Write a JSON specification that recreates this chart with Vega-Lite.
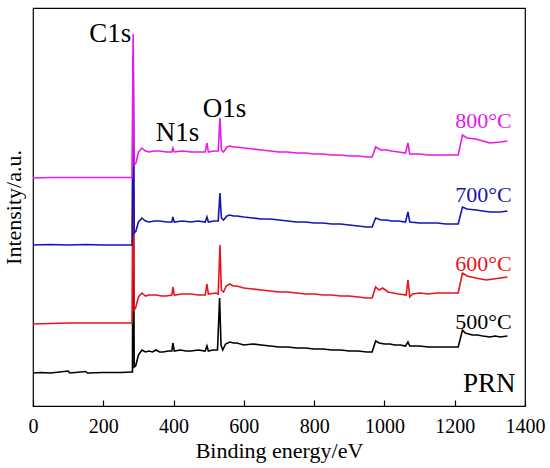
{
  "$schema": "https://vega.github.io/schema/vega-lite/v6.json",
  "width": 492,
  "height": 398,
  "autosize": {"type": "none"},
  "padding": {"left": 33, "top": 8, "right": 25, "bottom": 62},
  "background": "white",
  "config": {
    "font": "Liberation Serif",
    "view": {"stroke": "#000000", "strokeWidth": 1.2}
  },
  "datasets": {
    "spectra": [
      {"s":"500°C","e":0,"i":33},{"s":"500°C","e":20,"i":33.5},{"s":"500°C","e":50,"i":33},{"s":"500°C","e":100,"i":35},{"s":"500°C","e":105,"i":33},{"s":"500°C","e":150,"i":34.5},{"s":"500°C","e":155,"i":33},{"s":"500°C","e":200,"i":33.5},{"s":"500°C","e":250,"i":33.5},{"s":"500°C","e":280,"i":34},{"s":"500°C","e":283,"i":34},{"s":"500°C","e":285,"i":266},{"s":"500°C","e":288,"i":39},{"s":"500°C","e":292,"i":40},{"s":"500°C","e":300,"i":51},{"s":"500°C","e":310,"i":56},{"s":"500°C","e":320,"i":54},{"s":"500°C","e":330,"i":55},{"s":"500°C","e":340,"i":54},{"s":"500°C","e":350,"i":56},{"s":"500°C","e":360,"i":54},{"s":"500°C","e":370,"i":54},{"s":"500°C","e":385,"i":55},{"s":"500°C","e":395,"i":55},{"s":"500°C","e":398,"i":63},{"s":"500°C","e":402,"i":55},{"s":"500°C","e":420,"i":56},{"s":"500°C","e":435,"i":55},{"s":"500°C","e":450,"i":55},{"s":"500°C","e":470,"i":56},{"s":"500°C","e":490,"i":55},{"s":"500°C","e":495,"i":60},{"s":"500°C","e":499,"i":55},{"s":"500°C","e":512,"i":56},{"s":"500°C","e":525,"i":56},{"s":"500°C","e":531,"i":108},{"s":"500°C","e":535,"i":61},{"s":"500°C","e":540,"i":56},{"s":"500°C","e":548,"i":62},{"s":"500°C","e":560,"i":64},{"s":"500°C","e":570,"i":63},{"s":"500°C","e":580,"i":63},{"s":"500°C","e":600,"i":61},{"s":"500°C","e":625,"i":62},{"s":"500°C","e":650,"i":61},{"s":"500°C","e":675,"i":60},{"s":"500°C","e":700,"i":59},{"s":"500°C","e":725,"i":59},{"s":"500°C","e":750,"i":58},{"s":"500°C","e":775,"i":58},{"s":"500°C","e":800,"i":57},{"s":"500°C","e":825,"i":57},{"s":"500°C","e":850,"i":56},{"s":"500°C","e":875,"i":56},{"s":"500°C","e":900,"i":55},{"s":"500°C","e":925,"i":55},{"s":"500°C","e":950,"i":54},{"s":"500°C","e":965,"i":54},{"s":"500°C","e":975,"i":65},{"s":"500°C","e":985,"i":63},{"s":"500°C","e":1000,"i":62},{"s":"500°C","e":1015,"i":62},{"s":"500°C","e":1030,"i":61},{"s":"500°C","e":1045,"i":61},{"s":"500°C","e":1060,"i":60},{"s":"500°C","e":1067,"i":64},{"s":"500°C","e":1072,"i":60},{"s":"500°C","e":1100,"i":60},{"s":"500°C","e":1125,"i":59},{"s":"500°C","e":1150,"i":59},{"s":"500°C","e":1175,"i":59},{"s":"500°C","e":1200,"i":59},{"s":"500°C","e":1210,"i":59},{"s":"500°C","e":1222,"i":76},{"s":"500°C","e":1230,"i":73},{"s":"500°C","e":1250,"i":71},{"s":"500°C","e":1265,"i":71},{"s":"500°C","e":1280,"i":70},{"s":"500°C","e":1300,"i":69},{"s":"500°C","e":1315,"i":70},{"s":"500°C","e":1330,"i":69},{"s":"500°C","e":1350,"i":70},

      {"s":"600°C","e":0,"i":82},{"s":"600°C","e":50,"i":82.5},{"s":"600°C","e":100,"i":83},{"s":"600°C","e":150,"i":83},{"s":"600°C","e":200,"i":83},{"s":"600°C","e":250,"i":83},{"s":"600°C","e":282,"i":83},{"s":"600°C","e":285,"i":306},{"s":"600°C","e":288,"i":96},{"s":"600°C","e":292,"i":98},{"s":"600°C","e":300,"i":109},{"s":"600°C","e":310,"i":113},{"s":"600°C","e":320,"i":110},{"s":"600°C","e":330,"i":111},{"s":"600°C","e":350,"i":111},{"s":"600°C","e":365,"i":110},{"s":"600°C","e":380,"i":110},{"s":"600°C","e":395,"i":111},{"s":"600°C","e":398,"i":119},{"s":"600°C","e":402,"i":111},{"s":"600°C","e":425,"i":112},{"s":"600°C","e":450,"i":112},{"s":"600°C","e":470,"i":111},{"s":"600°C","e":490,"i":111},{"s":"600°C","e":495,"i":122},{"s":"600°C","e":499,"i":112},{"s":"600°C","e":520,"i":113},{"s":"600°C","e":527,"i":112},{"s":"600°C","e":532,"i":161},{"s":"600°C","e":536,"i":116},{"s":"600°C","e":542,"i":114},{"s":"600°C","e":550,"i":120},{"s":"600°C","e":560,"i":122},{"s":"600°C","e":570,"i":120},{"s":"600°C","e":580,"i":120},{"s":"600°C","e":600,"i":118},{"s":"600°C","e":625,"i":117},{"s":"600°C","e":650,"i":116},{"s":"600°C","e":675,"i":115},{"s":"600°C","e":700,"i":114},{"s":"600°C","e":725,"i":114},{"s":"600°C","e":750,"i":113},{"s":"600°C","e":775,"i":112},{"s":"600°C","e":800,"i":112},{"s":"600°C","e":825,"i":111},{"s":"600°C","e":850,"i":111},{"s":"600°C","e":875,"i":110},{"s":"600°C","e":900,"i":110},{"s":"600°C","e":925,"i":109},{"s":"600°C","e":950,"i":108},{"s":"600°C","e":965,"i":108},{"s":"600°C","e":975,"i":119},{"s":"600°C","e":985,"i":116},{"s":"600°C","e":995,"i":118},{"s":"600°C","e":1010,"i":114},{"s":"600°C","e":1025,"i":113},{"s":"600°C","e":1040,"i":112},{"s":"600°C","e":1062,"i":111},{"s":"600°C","e":1067,"i":126},{"s":"600°C","e":1072,"i":109},{"s":"600°C","e":1080,"i":112},{"s":"600°C","e":1100,"i":113},{"s":"600°C","e":1125,"i":112},{"s":"600°C","e":1150,"i":113},{"s":"600°C","e":1175,"i":113},{"s":"600°C","e":1200,"i":113},{"s":"600°C","e":1210,"i":113},{"s":"600°C","e":1222,"i":133},{"s":"600°C","e":1235,"i":130},{"s":"600°C","e":1260,"i":128},{"s":"600°C","e":1275,"i":127},{"s":"600°C","e":1290,"i":126},{"s":"600°C","e":1310,"i":127},{"s":"600°C","e":1330,"i":128},{"s":"600°C","e":1350,"i":129},

      {"s":"700°C","e":0,"i":161},{"s":"700°C","e":50,"i":161.5},{"s":"700°C","e":100,"i":161},{"s":"700°C","e":150,"i":161.5},{"s":"700°C","e":200,"i":161},{"s":"700°C","e":250,"i":161},{"s":"700°C","e":282,"i":161},{"s":"700°C","e":285,"i":351},{"s":"700°C","e":288,"i":173},{"s":"700°C","e":293,"i":175},{"s":"700°C","e":300,"i":184},{"s":"700°C","e":310,"i":188},{"s":"700°C","e":320,"i":185},{"s":"700°C","e":330,"i":184},{"s":"700°C","e":345,"i":185},{"s":"700°C","e":360,"i":185},{"s":"700°C","e":380,"i":184},{"s":"700°C","e":395,"i":184},{"s":"700°C","e":398,"i":189},{"s":"700°C","e":402,"i":184},{"s":"700°C","e":425,"i":185},{"s":"700°C","e":450,"i":184},{"s":"700°C","e":470,"i":185},{"s":"700°C","e":490,"i":184},{"s":"700°C","e":495,"i":189},{"s":"700°C","e":499,"i":184},{"s":"700°C","e":515,"i":185},{"s":"700°C","e":527,"i":185},{"s":"700°C","e":532,"i":213},{"s":"700°C","e":536,"i":188},{"s":"700°C","e":542,"i":186},{"s":"700°C","e":552,"i":190},{"s":"700°C","e":560,"i":191},{"s":"700°C","e":570,"i":190},{"s":"700°C","e":580,"i":190},{"s":"700°C","e":600,"i":189},{"s":"700°C","e":625,"i":188},{"s":"700°C","e":650,"i":187},{"s":"700°C","e":675,"i":187},{"s":"700°C","e":700,"i":186},{"s":"700°C","e":725,"i":185},{"s":"700°C","e":750,"i":184},{"s":"700°C","e":775,"i":184},{"s":"700°C","e":800,"i":183},{"s":"700°C","e":825,"i":183},{"s":"700°C","e":850,"i":182},{"s":"700°C","e":875,"i":182},{"s":"700°C","e":900,"i":181},{"s":"700°C","e":925,"i":180},{"s":"700°C","e":950,"i":179},{"s":"700°C","e":965,"i":179},{"s":"700°C","e":975,"i":188},{"s":"700°C","e":990,"i":186},{"s":"700°C","e":1005,"i":186},{"s":"700°C","e":1020,"i":185},{"s":"700°C","e":1040,"i":185},{"s":"700°C","e":1060,"i":184},{"s":"700°C","e":1067,"i":194},{"s":"700°C","e":1072,"i":184},{"s":"700°C","e":1100,"i":183},{"s":"700°C","e":1125,"i":183},{"s":"700°C","e":1150,"i":183},{"s":"700°C","e":1175,"i":182},{"s":"700°C","e":1200,"i":182},{"s":"700°C","e":1210,"i":182},{"s":"700°C","e":1222,"i":199},{"s":"700°C","e":1235,"i":197},{"s":"700°C","e":1260,"i":196},{"s":"700°C","e":1280,"i":195},{"s":"700°C","e":1300,"i":194},{"s":"700°C","e":1330,"i":194},{"s":"700°C","e":1350,"i":195},

      {"s":"800°C","e":0,"i":228},{"s":"800°C","e":50,"i":228.5},{"s":"800°C","e":100,"i":228.5},{"s":"800°C","e":150,"i":228.5},{"s":"800°C","e":200,"i":228.5},{"s":"800°C","e":250,"i":228.5},{"s":"800°C","e":282,"i":228.5},{"s":"800°C","e":285,"i":372},{"s":"800°C","e":288,"i":241},{"s":"800°C","e":293,"i":243},{"s":"800°C","e":300,"i":254},{"s":"800°C","e":310,"i":258},{"s":"800°C","e":320,"i":255},{"s":"800°C","e":330,"i":254},{"s":"800°C","e":345,"i":255},{"s":"800°C","e":360,"i":255},{"s":"800°C","e":380,"i":254},{"s":"800°C","e":395,"i":254},{"s":"800°C","e":398,"i":258},{"s":"800°C","e":402,"i":254},{"s":"800°C","e":425,"i":255},{"s":"800°C","e":450,"i":254},{"s":"800°C","e":470,"i":254},{"s":"800°C","e":490,"i":254},{"s":"800°C","e":495,"i":263},{"s":"800°C","e":499,"i":254},{"s":"800°C","e":515,"i":255},{"s":"800°C","e":527,"i":255},{"s":"800°C","e":532,"i":288},{"s":"800°C","e":536,"i":256},{"s":"800°C","e":542,"i":254},{"s":"800°C","e":552,"i":259},{"s":"800°C","e":560,"i":260},{"s":"800°C","e":570,"i":259},{"s":"800°C","e":580,"i":259},{"s":"800°C","e":600,"i":258},{"s":"800°C","e":625,"i":257},{"s":"800°C","e":650,"i":256},{"s":"800°C","e":675,"i":255},{"s":"800°C","e":700,"i":254},{"s":"800°C","e":725,"i":254},{"s":"800°C","e":750,"i":253},{"s":"800°C","e":775,"i":253},{"s":"800°C","e":800,"i":252},{"s":"800°C","e":825,"i":252},{"s":"800°C","e":850,"i":251},{"s":"800°C","e":875,"i":251},{"s":"800°C","e":900,"i":250},{"s":"800°C","e":925,"i":250},{"s":"800°C","e":950,"i":249},{"s":"800°C","e":965,"i":249},{"s":"800°C","e":975,"i":259},{"s":"800°C","e":990,"i":256},{"s":"800°C","e":1005,"i":256},{"s":"800°C","e":1020,"i":255},{"s":"800°C","e":1040,"i":254},{"s":"800°C","e":1060,"i":253},{"s":"800°C","e":1067,"i":263},{"s":"800°C","e":1072,"i":252},{"s":"800°C","e":1100,"i":252},{"s":"800°C","e":1125,"i":251},{"s":"800°C","e":1150,"i":251},{"s":"800°C","e":1175,"i":251},{"s":"800°C","e":1200,"i":251},{"s":"800°C","e":1210,"i":251},{"s":"800°C","e":1222,"i":271},{"s":"800°C","e":1235,"i":268},{"s":"800°C","e":1260,"i":267},{"s":"800°C","e":1280,"i":265},{"s":"800°C","e":1300,"i":263},{"s":"800°C","e":1330,"i":264},{"s":"800°C","e":1350,"i":265}
    ],
    "peaks": [
      {"t":"C1s","e":220,"i":364},
      {"t":"N1s","e":411,"i":265},
      {"t":"O1s","e":545,"i":289},
      {"t":"PRN","e":1298,"i":14}
    ],
    "temps": [
      {"s":"800°C","e":1282,"i":278},
      {"s":"700°C","e":1282,"i":204},
      {"s":"600°C","e":1282,"i":135},
      {"s":"500°C","e":1282,"i":77}
    ]
  },
  "layer": [
    {
      "data": {"name": "spectra"},
      "mark": {"type": "line", "strokeWidth": 1.6, "interpolate": "linear"},
      "encoding": {
        "x": {
          "field": "e", "type": "quantitative",
          "scale": {"domain": [0, 1400], "nice": false},
          "axis": {
            "title": "Binding energy/eV",
            "values": [0,100,200,300,400,500,600,700,800,900,1000,1100,1200,1300,1400],
            "labelExpr": "datum.value % 200 === 0 ? datum.label : ''",
            "format": "d",
            "grid": false,
            "domain": false,
            "tickSize": -6,
            "tickColor": "#000000",
            "tickWidth": 1.2,
            "labelPadding": 16,
            "labelFontSize": 20,
            "labelColor": "#000000",
            "labelFlush": false,
            "titleFontSize": 22,
            "titleFontWeight": "normal",
            "titleColor": "#000000",
            "titlePadding": 4
          }
        },
        "y": {
          "field": "i", "type": "quantitative",
          "scale": {"domain": [0, 398], "nice": false},
          "axis": {
            "title": "Intensity/a.u.",
            "ticks": false,
            "labels": false,
            "domain": false,
            "grid": false,
            "titleFontSize": 22,
            "titleFontWeight": "normal",
            "titleColor": "#000000",
            "titlePadding": 8
          }
        },
        "color": {
          "field": "s", "type": "nominal",
          "scale": {"domain": ["500°C","600°C","700°C","800°C"], "range": ["#000000","#e8141e","#1414b4","#e619e6"]},
          "legend": null
        }
      }
    },
    {
      "data": {"name": "peaks"},
      "mark": {"type": "text", "align": "center", "baseline": "alphabetic", "color": "#000000", "fontSize": 27},
      "encoding": {
        "x": {"field": "e", "type": "quantitative"},
        "y": {"field": "i", "type": "quantitative"},
        "text": {"field": "t"}
      }
    },
    {
      "data": {"name": "temps"},
      "mark": {"type": "text", "align": "center", "baseline": "alphabetic", "fontSize": 22},
      "encoding": {
        "x": {"field": "e", "type": "quantitative"},
        "y": {"field": "i", "type": "quantitative"},
        "text": {"field": "s"},
        "color": {"field": "s", "type": "nominal", "legend": null}
      }
    }
  ]
}
